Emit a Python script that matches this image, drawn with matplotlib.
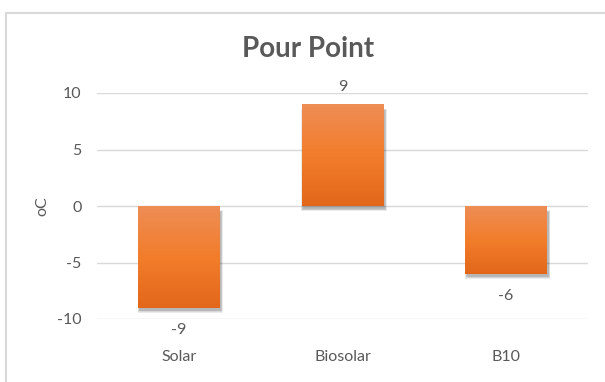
import numpy as np
import matplotlib
matplotlib.use("Agg")
import matplotlib.pyplot as plt
from matplotlib.patches import Rectangle
from matplotlib.colors import LinearSegmentedColormap

categories = ["Solar", "Biosolar", "B10"]
values = [-9, 9, -6]
title = "Pour Point"
ylabel = "oC"
yticks = [-10, -5, 0, 5, 10]

plt.rcParams['font.family'] = ['Lato', 'DejaVu Sans']
txt = "#595959"
fs = 11.5

W, H = 605, 382
fig = plt.figure(figsize=(W/100, H/100), dpi=100)
fig.patch.set_facecolor("white")
# chart border (cropped at right/bottom)
fig.add_artist(Rectangle((6/W, -0.1), 1.2, (H-13)/H + 0.1, transform=fig.transFigure,
                         fill=False, edgecolor="#D9D9D9", linewidth=1.5))

L, R, T, B = 97, 588, 93, 319
ax = fig.add_axes([L/W, 1-B/H, (R-L)/W, (B-T)/H])
ax.set_xlim(-0.5, 2.5)
ax.set_ylim(-10, 10)
ax.set_yticks(yticks)
ax.set_yticklabels([str(t) for t in yticks])
ax.set_xticks(range(len(categories)))
ax.set_xticklabels(categories)
ax.tick_params(axis='both', length=0, colors=txt, labelsize=fs)
ax.tick_params(axis='y', pad=11)
ax.tick_params(axis='x', pad=22)
for s in ax.spines.values():
    s.set_visible(False)
ax.grid(axis='y', color="#D9D9D9", linewidth=1)
ax.set_axisbelow(True)

# pixel -> data conversion for the soft shadow
px_x = 3.0 / (R - L)
px_y = 20.0 / (B - T)

cmap = LinearSegmentedColormap.from_list("og", ["#E2671A", "#F27D2B", "#EE8D56"])
grad = np.linspace(0, 1, 256).reshape(-1, 1)
w = 0.5
for i, v in enumerate(values):
    lo, hi = min(0, v), max(0, v)
    # soft shadow layers
    for k in range(4):
        e = k * 0.6
        ax.add_patch(Rectangle((i - w/2 + 1.5*px_x - e*px_x, lo - 3.0*px_y - e*px_y),
                               w + 2*e*px_x, hi - lo - 1*px_y + 2*e*px_y - 2*px_y,
                               facecolor="black", edgecolor="none", alpha=0.08, zorder=2))
    im = ax.imshow(grad, extent=(i - w/2, i + w/2, lo, hi), origin="lower", cmap=cmap,
                   aspect="auto", zorder=3, interpolation="bilinear")
    clip = Rectangle((i - w/2, lo), w, hi - lo, transform=ax.transData)
    im.set_clip_path(clip)
    if v >= 0:
        ax.annotate(str(v), (i, v), xytext=(0, 12.5), textcoords="offset points",
                    ha="center", va="center", color=txt, fontsize=fs)
    else:
        ax.annotate(str(v), (i, v), xytext=(0, -16), textcoords="offset points",
                    ha="center", va="center", color=txt, fontsize=fs)

ax.set_xlim(-0.5, 2.5)
ax.set_ylim(-10, 10)
fig.text(42/W, 1-206/H, ylabel, rotation=90, ha="center", va="center", color=txt, fontsize=fs)
fig.text(308/W, 1-49/H, title, ha="center", va="center", fontsize=20,
         fontweight="bold", color=txt)

fig.savefig("out.png", dpi=100, facecolor="white")
